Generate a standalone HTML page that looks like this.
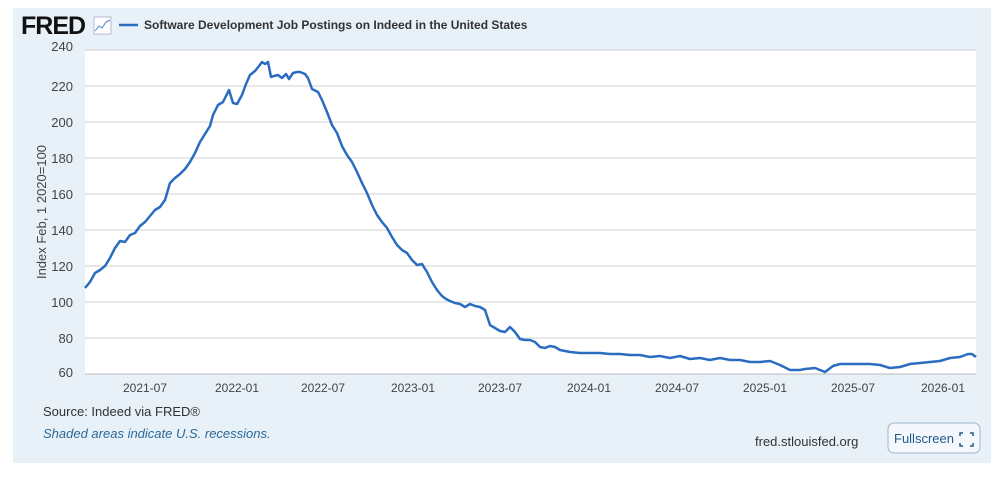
<!DOCTYPE html>
<html><head><meta charset="utf-8"><style>
body{margin:0;background:#fff;width:1000px;height:473px;overflow:hidden;font-family:"Liberation Sans",sans-serif}
</style></head><body>
<svg width="1000" height="473" xmlns="http://www.w3.org/2000/svg" font-family="Liberation Sans, sans-serif">
<rect x="13" y="8" width="978" height="455" fill="#e8f0f8"/>
<text x="21" y="34" font-size="25" font-weight="bold" fill="#111" letter-spacing="-1">FRED</text>
<rect x="94" y="17" width="17" height="17" fill="#fff" stroke="#aac" stroke-width="0.8"/>
<polyline points="95,31 99,26 102,28 106,22 110,20" fill="none" stroke="#4a8ac8" stroke-width="1"/>
<line x1="119" y1="25" x2="138" y2="25" stroke="#2a6cbf" stroke-width="2.5"/>
<text x="144" y="29" font-size="12" font-weight="bold" fill="#333">Software Development Job Postings on Indeed in the United States</text>
<rect x="85" y="50" width="891" height="324" fill="#fff"/>
<g stroke="#d0d0d0" stroke-width="1">
<line x1="85" y1="86" x2="976" y2="86"/><line x1="85" y1="122" x2="976" y2="122"/><line x1="85" y1="158" x2="976" y2="158"/><line x1="85" y1="194" x2="976" y2="194"/><line x1="85" y1="230" x2="976" y2="230"/><line x1="85" y1="266" x2="976" y2="266"/><line x1="85" y1="302" x2="976" y2="302"/><line x1="85" y1="338" x2="976" y2="338"/>
</g>
<line x1="85" y1="50" x2="976" y2="50" stroke="#ccc"/>
<line x1="85" y1="374" x2="976" y2="374" stroke="#bbb"/>
<g font-size="13" fill="#444" text-anchor="end">
<text x="73" y="51">240</text><text x="73" y="91">220</text><text x="73" y="127">200</text><text x="73" y="163">180</text><text x="73" y="199">160</text><text x="73" y="235">140</text><text x="73" y="271">120</text><text x="73" y="307">100</text><text x="73" y="343">80</text><text x="73" y="377">60</text>
</g>
<text transform="translate(46,212) rotate(-90)" font-size="13" fill="#444" text-anchor="middle">Index Feb, 1 2020=100</text>
<g font-size="12" fill="#444" text-anchor="middle">
<text x="145" y="392">2021-07</text><text x="237" y="392">2022-01</text><text x="323" y="392">2022-07</text><text x="413" y="392">2023-01</text><text x="500" y="392">2023-07</text><text x="589" y="392">2024-01</text><text x="677" y="392">2024-07</text><text x="765" y="392">2025-01</text><text x="853" y="392">2025-07</text><text x="943" y="392">2026-01</text>
</g>
<polyline fill="none" stroke="#2a6cbf" stroke-width="2.5" stroke-linejoin="round" points="85,288 90,282 95,273 100,270 105,266 110,258 115,248 120,241 125,242 130,235 135,233 140,226 145,222 150,216 155,210 160,207 165,200 170,183 175,178 180,174 185,169 190,162 195,153 200,142 205,134 210,126 213,115 218,105 223,102 229,90 233,103 237,104 242,95 246,84 250,75 255,71 259,66 262,62 265,64 268,62 271,77 274,76 278,75 282,78 286,74 289,79 293,73 297,72 300,72 305,74 308,78 312,89 318,92 322,100 327,112 332,125 337,133 342,146 347,155 352,162 357,172 362,183 367,193 372,205 377,215 382,222 387,228 392,237 397,245 402,250 407,253 412,260 417,265 422,264 427,272 432,282 437,290 442,296 446,299 450,301 455,303 460,304 465,307 470,304 475,306 480,307 485,310 490,325 495,328 500,331 505,332 510,327 515,332 520,339 525,340 530,340 535,342 540,347 545,348 550,346 555,347 560,350 565,351 570,352 580,353 590,353 600,353 610,354 620,354 630,355 640,355 650,357 660,356 670,358 680,356 690,359 700,358 710,360 720,358 730,360 740,360 750,362 760,362 770,361 775,363 780,365 790,370 800,370 805,369 815,368 825,372 833,366 840,364 850,364 860,364 870,364 880,365 890,368 900,367 910,364 920,363 930,362 940,361 950,358 960,357 968,354 972,354 976,357"/>
<text x="43" y="416" font-size="13" fill="#333">Source: Indeed via FRED®</text>
<text x="43" y="438" font-size="13" fill="#2a6a9a" font-style="italic">Shaded areas indicate U.S. recessions.</text>
<text x="755" y="446" font-size="13" fill="#333">fred.stlouisfed.org</text>
<rect x="888" y="423" width="92" height="30" rx="6" fill="#f4f8fc" stroke="#9bb8d0"/>
<text x="894" y="443" font-size="13" fill="#1e5a8a">Fullscreen</text>
<g stroke="#1e5a8a" stroke-width="1.5" fill="none"><path d="M960,436v-3h3M970,433h3v3M973,443v3h-3M963,446h-3v-3"/></g>
</svg>
</body></html>
